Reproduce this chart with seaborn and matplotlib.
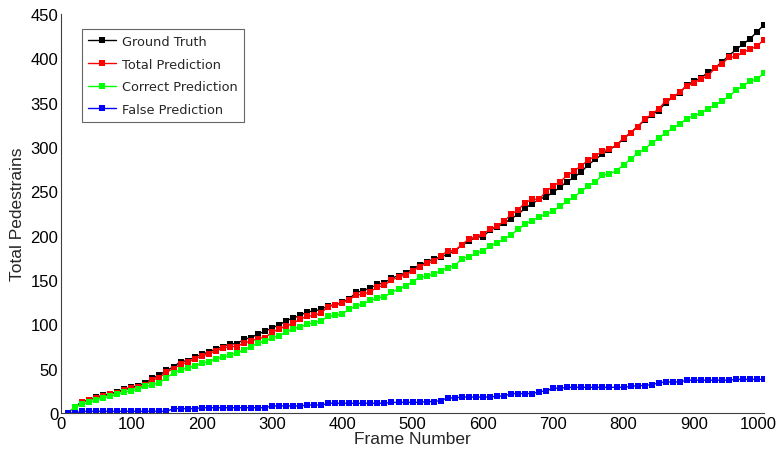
import matplotlib
matplotlib.use("Agg")
import matplotlib.pyplot as plt
import matplotlib.transforms as mtransforms
import seaborn as sns
import pandas as pd

frames = list(range(10, 1001, 10))

ground_truth = [0, 7, 13, 15, 18, 20, 22, 24, 27, 29,
                31, 34, 39, 43, 48, 52, 58, 59, 63, 66,
                69, 72, 75, 78, 78, 83, 85, 89, 92, 96,
                99, 104, 107, 110, 114, 115, 117, 121, 122, 125,
                129, 136, 138, 141, 145, 147, 152, 155, 158, 162,
                167, 170, 174, 176, 179, 183, 189, 194, 198, 199,
                206, 210, 214, 219, 224, 231, 236, 241, 244, 249,
                255, 261, 266, 272, 280, 286, 292, 297, 302, 309,
                316, 323, 330, 336, 341, 350, 356, 361, 370, 374,
                378, 384, 389, 396, 403, 410, 416, 422, 430, 438]

total_pred = [0, 6, 12, 15, 17, 19, 21, 23, 26, 28,
              29, 32, 37, 40, 46, 50, 55, 57, 61, 64,
              67, 70, 73, 75, 75, 79, 81, 84, 85, 91,
              95, 98, 101, 106, 109, 110, 113, 120, 122, 124,
              128, 133, 134, 137, 142, 144, 150, 153, 156, 160,
              165, 169, 171, 177, 183, 183, 190, 196, 199, 202,
              207, 211, 216, 224, 229, 237, 241, 241, 250, 256,
              261, 268, 273, 279, 285, 290, 295, 298, 302, 310,
              316, 323, 331, 337, 343, 352, 356, 362, 369, 372,
              377, 380, 389, 394, 401, 402, 407, 410, 414, 421]

correct_pred = [0, 7, 10, 12, 15, 17, 19, 21, 24, 25,
                27, 30, 32, 34, 40, 45, 49, 51, 53, 56,
                58, 61, 63, 65, 68, 71, 75, 79, 81, 85,
                87, 91, 95, 97, 100, 102, 104, 109, 110, 112,
                117, 121, 123, 127, 130, 131, 136, 140, 143, 148,
                153, 154, 157, 160, 164, 166, 174, 176, 180, 183,
                188, 192, 196, 201, 207, 213, 217, 221, 224, 228,
                233, 239, 244, 250, 256, 261, 268, 270, 273, 280,
                286, 293, 298, 304, 310, 316, 321, 326, 332, 335,
                338, 343, 347, 352, 357, 364, 369, 374, 377, 383]

false_pred = [0, 0, 2, 2, 2, 2, 2, 2, 2, 2,
              2, 2, 2, 2, 2, 5, 5, 5, 5, 6,
              6, 6, 6, 6, 6, 6, 6, 6, 6, 8,
              8, 8, 8, 8, 9, 9, 9, 11, 11, 11,
              11, 11, 11, 11, 11, 11, 12, 12, 12, 12,
              12, 13, 13, 14, 17, 17, 18, 18, 18, 18,
              18, 19, 19, 22, 22, 22, 22, 24, 25, 28,
              28, 29, 29, 29, 29, 29, 29, 29, 29, 29,
              30, 31, 31, 32, 34, 35, 35, 35, 37, 37,
              37, 37, 37, 37, 37, 38, 38, 38, 38, 38]

series_names = ["Ground Truth", "Total Prediction", "Correct Prediction", "False Prediction"]
series_values = [ground_truth, total_pred, correct_pred, false_pred]
colors = ["#000000", "#FF0000", "#00FF00", "#0000FF"]

x_ticks = list(range(0, 1001, 100))
y_ticks = list(range(0, 451, 50))

sns.set_style("white")
plt.rcParams['font.family'] = ['Liberation Sans', 'DejaVu Sans']

fig = plt.figure(figsize=(7.77, 4.52), dpi=100)
ax = fig.add_axes([0.0785, 0.084, 0.905, 0.883])

for name, vals, c in zip(series_names, series_values, colors):
    df = pd.DataFrame({"frame": frames, "count": vals})
    sns.lineplot(data=df, x="frame", y="count", ax=ax, color=c, marker="s",
                 markersize=4, markeredgewidth=0, linewidth=1.0, label=name)

ax.set_xlim(0, 1000)
ax.set_ylim(0, 450)
ax.set_xticks(x_ticks)
ax.set_yticks(y_ticks)
ax.tick_params(axis="both", direction="in", length=5, width=0.8, labelsize=12,
               colors="#404040", labelcolor="black", pad=2)
for s in ["top", "right"]:
    ax.spines[s].set_visible(False)
for s in ["left", "bottom"]:
    ax.spines[s].set_color("#404040")
    ax.spines[s].set_linewidth(0.8)

# keep the last x tick label inside the figure
last_lbl = ax.get_xticklabels()[-1]
last_lbl.set_transform(last_lbl.get_transform() +
                       mtransforms.ScaledTranslation(-6 / 100, 0, fig.dpi_scale_trans))

ax.set_xlabel("Frame Number", fontsize=12.5, labelpad=0)
ax.set_ylabel("Total Pedestrains", fontsize=12.5, labelpad=4)

leg = ax.legend(loc="upper left", bbox_to_anchor=(0.03, 0.962), frameon=True,
                fancybox=False, edgecolor="#404040",
                handlelength=2.2, handletextpad=0.45, borderpad=0.45,
                labelspacing=0.75, borderaxespad=0,
                prop={"family": ["DejaVu Sans"], "size": 9.3})
leg.get_frame().set_linewidth(0.8)

fig.savefig("out.png", dpi=100)
